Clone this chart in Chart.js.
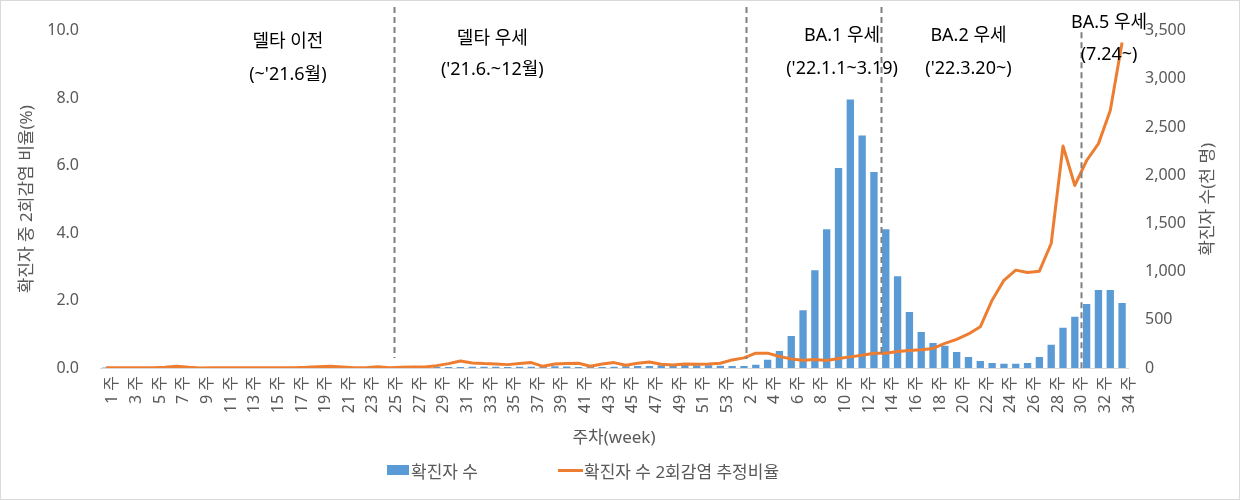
<!DOCTYPE html>
<html lang="ko">
<head>
<meta charset="utf-8">
<title>확진자 수 및 2회감염 추정비율</title>
<script src="https://cdn.jsdelivr.net/npm/chart.js@4.4.1/dist/chart.umd.min.js"></script>
<style>
    html, body { margin: 0; padding: 0; background: #fff; }
    #wrap { position: relative; width: 1240px; height: 500px; box-shadow: inset 0 0 0 1px #d9d9d9; }
    .legend-item { position: absolute; top: 458px; display: flex; align-items: center; height: 24px;
        font: 17px 'Noto Sans', 'Noto Sans CJK KR', sans-serif; color: #595959; white-space: nowrap; }
    .swatch-bar { width: 22px; height: 10px; background: #5b9bd5; margin-right: 2px; }
    .swatch-line { width: 25px; height: 3px; background: #ed7d31; margin-right: 1px; }
</style>
</head>
<body>
<div id="wrap">
    <canvas id="reinfectChart"></canvas>
    <div class="legend-item" style="left:387px"><span class="swatch-bar"></span>확진자 수</div>
    <div class="legend-item" style="left:558px"><span class="swatch-line"></span>확진자 수 2회감염 추정비율</div>
</div>
<script>
// week labels ('21 week 1~53, '22 week 1~34)
const labels2021 = ['1 주','2 주','3 주','4 주','5 주','6 주','7 주','8 주','9 주','10 주',
    '11 주','12 주','13 주','14 주','15 주','16 주','17 주','18 주','19 주','20 주',
    '21 주','22 주','23 주','24 주','25 주','26 주','27 주','28 주','29 주','30 주',
    '31 주','32 주','33 주','34 주','35 주','36 주','37 주','38 주','39 주','40 주',
    '41 주','42 주','43 주','44 주','45 주','46 주','47 주','48 주','49 주','50 주',
    '51 주','52 주','53 주'];
const labels2022 = ['1 주','2 주','3 주','4 주','5 주','6 주','7 주','8 주','9 주','10 주',
    '11 주','12 주','13 주','14 주','15 주','16 주','17 주','18 주','19 주','20 주',
    '21 주','22 주','23 주','24 주','25 주','26 주','27 주','28 주','29 주','30 주',
    '31 주','32 주','33 주','34 주'];

// weekly confirmed cases (thousand)
const cases2021 = [5, 5, 4, 3, 3, 3, 3, 3, 3, 3, 3, 3, 3, 4, 4, 5, 5, 4, 4, 4,
    4, 4, 4, 3, 3, 4, 7, 10, 11, 11, 11, 12, 12, 12, 11, 12, 12, 15, 19, 15,
    11, 10, 11, 14, 17, 21, 20, 28, 24, 31, 28, 28, 24];
const cases2022 = [21, 22, 35, 85, 176, 333, 600, 1015, 1440, 2074,
    2786, 2413, 2033, 1440, 953, 580, 373, 259, 231, 166,
    114, 72, 52, 45, 45, 52, 114, 242, 418, 532,
    663, 808, 808, 673];

// estimated share of reinfection among confirmed cases (%)
const reinfect2021 = [0.01, 0.01, 0.01, 0.01, 0.01, 0.02, 0.05, 0.02, 0.00, 0.01,
    0.01, 0.01, 0.01, 0.01, 0.01, 0.01, 0.01, 0.02, 0.04, 0.05,
    0.03, 0.01, 0.01, 0.04, 0.01, 0.02, 0.03, 0.03, 0.07, 0.13,
    0.21, 0.15, 0.13, 0.12, 0.10, 0.13, 0.16, 0.05, 0.12, 0.13,
    0.14, 0.05, 0.12, 0.16, 0.08, 0.14, 0.18, 0.11, 0.09, 0.12,
    0.11, 0.12, 0.14];
const reinfect2022 = [0.24, 0.30, 0.44, 0.44, 0.34, 0.27, 0.23, 0.25, 0.22, 0.28,
    0.33, 0.38, 0.44, 0.44, 0.49, 0.52, 0.54, 0.58, 0.73, 0.85,
    1.01, 1.22, 2.01, 2.60, 2.90, 2.83, 2.87, 3.69, 6.58, 5.41,
    6.15, 6.65, 7.63, 9.65];

// variant periods
const phaseNames = ['델타 이전', '델타 우세', 'BA.1 우세', 'BA.2 우세', 'BA.5 우세'];
const phasePeriods = ["(~'21.6월)", "('21.6.~12월)", "('22.1.1~3.19)", "('22.3.20~)", "(7.24~)"];

// where the dashed separators and period texts go (category index / left axis %)
const annot = {
    lineAt: [24.4, 54.2, 65.6, 82.5],
    lineTop: [10.7, 10.7, 10.7, 9.95],
    lineBottom: [0.3, 0.27, 0.32, 0],
    textAt: [15.4, 32.7, 62.3, 73.0, 84.9],
    nameY: [9.67, 9.76, 9.85, 9.85, 10.24],
    periodY: [8.70, 8.85, 8.88, 8.88, 9.29]
};

const FONT = "'Noto Sans', 'Noto Sans CJK KR', sans-serif";
Chart.defaults.font.family = FONT;
Chart.defaults.color = '#595959';

// dashed phase lines + texts, right axis title (reads bottom to top like excel)
const phasePlugin = {
    id: 'phases',
    afterDatasetsDraw(chart) {
        const {ctx, chartArea, scales: {x, y}} = chart;
        ctx.save();
        ctx.strokeStyle = '#7f7f7f';
        ctx.lineWidth = 2;
        ctx.setLineDash([6, 4]);
        annot.lineAt.forEach((pos, i) => {
            const px = Math.round(x.getPixelForValue(pos)) + 0.5;
            ctx.beginPath();
            ctx.moveTo(px, y.getPixelForValue(annot.lineTop[i]));
            ctx.lineTo(px, y.getPixelForValue(annot.lineBottom[i]));
            ctx.stroke();
        });
        ctx.setLineDash([]);

        ctx.fillStyle = '#000';
        ctx.textAlign = 'center';
        ctx.textBaseline = 'middle';
        ctx.font = '18px ' + FONT;
        phaseNames.forEach((name, i) => {
            const px = x.getPixelForValue(annot.textAt[i]);
            ctx.fillText(name, px, y.getPixelForValue(annot.nameY[i]));
            ctx.fillText(phasePeriods[i], px, y.getPixelForValue(annot.periodY[i]));
        });

        ctx.fillStyle = '#595959';
        ctx.font = '17px ' + FONT;
        ctx.translate(chartArea.right + 80, (chartArea.top + chartArea.bottom) / 2);
        ctx.rotate(-Math.PI / 2);
        ctx.fillText('확진자 수(천 명)', 0, 0);
        ctx.restore();
    }
};

const ctx = document.getElementById('reinfectChart');

new Chart(ctx, {
    type: 'bar',
    data: {
        labels: labels2021.concat(labels2022),
        datasets: [{
            type: 'line',
            label: '확진자 수 2회감염 추정비율',
            data: reinfect2021.concat(reinfect2022),
            yAxisID: 'y',
            borderColor: '#ed7d31',
            backgroundColor: '#ed7d31',
            borderWidth: 3,
            pointRadius: 0,
            tension: 0,
            borderJoinStyle: 'round',
            order: 1
        }, {
            label: '확진자 수',
            data: cases2021.concat(cases2022),
            yAxisID: 'y1',
            backgroundColor: '#5b9bd5',
            barPercentage: 0.62,
            categoryPercentage: 1,
            order: 2
        }]
    },
    options: {
        responsive: true,
        maintainAspectRatio: false,
        animation: false,
        layout: { padding: { top: 30, bottom: 42, left: 0, right: 0 } },
        plugins: {
            legend: { display: false },
            tooltip: { enabled: false }
        },
        scales: {
            x: {
                grid: { display: false, drawTicks: false },
                border: { color: '#d9d9d9', width: 1 },
                ticks: {
                    autoSkip: false,
                    minRotation: 90,
                    maxRotation: 90,
                    padding: 8,
                    labelOffset: 7,
                    font: { size: 16 },
                    callback: function (val, i) {
                        return i % 2 === 0 ? this.getLabelForValue(val) : '';
                    }
                },
                title: { display: true, text: '주차(week)', font: { size: 17 }, padding: { top: 0, bottom: 10 } },
                afterFit(scale) { scale.height = 90; }
            },
            y: {
                position: 'left',
                min: 0,
                max: 10,
                grid: { display: false, drawTicks: false },
                border: { display: false },
                ticks: { stepSize: 2, padding: 21, font: { size: 16 }, callback: v => v.toFixed(1) },
                title: { display: true, text: '확진자 중 2회감염 비율(%)', font: { size: 17 }, padding: { top: 17, bottom: 0 } },
                afterFit(scale) { scale.width = 100; }
            },
            y1: {
                position: 'right',
                min: 0,
                max: 3500,
                grid: { display: false, drawTicks: false },
                border: { display: false },
                ticks: { stepSize: 500, padding: 17, font: { size: 16 }, callback: v => v.toLocaleString('en-US') },
                afterFit(scale) { scale.width = 112; }
            }
        }
    },
    plugins: [phasePlugin]
});
</script>
</body>
</html>
